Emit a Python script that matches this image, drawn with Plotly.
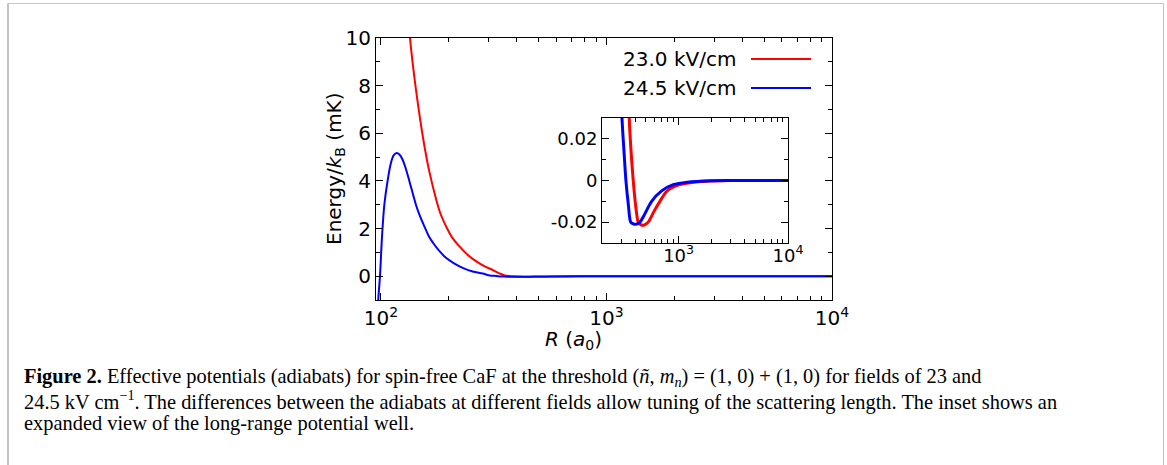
import plotly.graph_objects as go

# ---- data ----
r_red = [128, 134.5, 140, 145, 152.5, 158, 163.8, 175.4, 184, 194.2, 207, 222.4, 242, 263.8,
         287, 312.8, 335, 354, 370, 385,
         405, 428, 450, 475, 500, 528, 600, 675, 787, 1028, 1500, 2000, 3000, 5000, 10000]
e_red = [12.5, 10.0, 8.5, 7.4, 6.0, 5.15, 4.4, 3.25, 2.6, 2.1, 1.62, 1.26, 0.9, 0.63,
         0.42, 0.26, 0.12, 0.03, 0.012, 0.0,
         -0.012, -0.02, -0.0212, -0.0215, -0.021, -0.02, -0.0145, -0.01, -0.005, -0.002, -0.0006,
         -0.0002, 0.0, 0.0, 0.0]

r_blue = [96, 97.3, 99, 101, 103.5, 107, 110.7, 114, 117.4, 121, 124.8, 129, 133.6, 142.9, 148.5,
          155.6, 163, 172.3, 183, 194.2, 210, 230.3, 255, 282.5, 304, 317, 330, 348, 365, 385,
          408, 443, 480, 567, 700, 893, 1200, 2000, 3000, 5000, 10000]
e_blue = [-3.0, -1.0, 0.0, 1.6, 3.0, 4.0, 4.75, 5.08, 5.17, 5.1, 4.89, 4.5, 4.0, 3.0, 2.55,
          2.1, 1.68, 1.33, 1.02, 0.77, 0.55, 0.35, 0.2, 0.11, 0.03, 0.014, 0.0, -0.012, -0.02,
          -0.0208, -0.021, -0.02, -0.017, -0.01, -0.005, -0.002, -0.0008, -0.0001, 0.0, 0.0, 0.0]

labels = ["23.0 kV/cm", "24.5 kV/cm"]
colors = ["#ff0000", "#0000ff"]

main_xticks = [100, 1000, 10000]
main_xticktext = ["10<sup>2</sup>", "10<sup>3</sup>", "10<sup>4</sup>"]
main_yticks = [0, 2, 4, 6, 8, 10]
main_yminor = [-1, 1, 3, 5, 7, 9]
inset_xticks = [1000, 10000]
inset_xticktext = ["10<sup>3</sup>", "10<sup>4</sup>"]
inset_yticks = [-0.02, 0, 0.02]
inset_yticktext = ["-0.02", "0", "0.02"]
inset_yminor = [-0.03, -0.01, 0.01, 0.03]
minor_x = [v * 10 ** d for d in (2, 3) for v in range(2, 10)]

FONT = "DejaVu Sans"
W, H = 1167, 465

fig = go.Figure()
for r, e, c, name in [(r_red, e_red, colors[0], labels[0]), (r_blue, e_blue, colors[1], labels[1])]:
    fig.add_trace(go.Scatter(x=r, y=e, mode="lines", line=dict(color=c, width=2, shape="spline", smoothing=1.0),
                             name=name, showlegend=False, xaxis="x", yaxis="y"))
for r, e, c, name in [(r_red, e_red, colors[0], labels[0]), (r_blue, e_blue, colors[1], labels[1])]:
    fig.add_trace(go.Scatter(x=r, y=e, mode="lines", line=dict(color=c, width=3, shape="spline", smoothing=0.8),
                             name=name, showlegend=False, xaxis="x2", yaxis="y2"))

axcommon = dict(showline=True, linecolor="black", linewidth=1, mirror="ticks", ticks="inside",
                tickcolor="black", showgrid=False, zeroline=False, automargin=False,
                tickfont=dict(family=FONT, size=20, color="black"))

fig.update_layout(
    template="none",
    width=W, height=H, margin=dict(l=0, r=0, t=0, b=0, pad=0, autoexpand=False),
    paper_bgcolor="white", plot_bgcolor="rgba(0,0,0,0)", showlegend=False,
    xaxis=dict(axcommon, type="log", range=[1.978, 4.0], domain=[376 / W, 832 / W],
               tickmode="array", tickvals=main_xticks, ticktext=main_xticktext, ticklen=7,
               minor=dict(tickmode="array", tickvals=minor_x, ticks="inside", ticklen=4, tickcolor="black"),
               anchor="y"),
    yaxis=dict(axcommon, range=[-1, 10], domain=[1 - 300 / H, 1 - 38 / H],
               tickmode="array", tickvals=main_yticks, ticklen=7,
               minor=dict(tickmode="array", tickvals=main_yminor, ticks="inside", ticklen=4, tickcolor="black"),
               anchor="x"),
    xaxis2=dict(axcommon, type="log", range=[2.30, 4.0], domain=[602 / W, 788 / W],
                tickmode="array", tickvals=inset_xticks, ticktext=inset_xticktext, ticklen=7,
                tickfont=dict(family=FONT, size=18, color="black"), ticklabelstandoff=-4,
                minor=dict(tickmode="array", tickvals=minor_x, ticks="inside", ticklen=4, tickcolor="black"),
                anchor="y2"),
    yaxis2=dict(axcommon, range=[-0.03, 0.03], domain=[1 - 243 / H, 1 - 118 / H],
                tickmode="array", tickvals=inset_yticks, ticktext=inset_yticktext, ticklen=7,
                tickfont=dict(family=FONT, size=18, color="black"),
                minor=dict(tickmode="array", tickvals=inset_yminor, ticks="inside", ticklen=4, tickcolor="black"),
                anchor="x2"),
)

# white background for inset
fig.add_shape(type="rect", xref="x2 domain", yref="y2 domain", x0=0, x1=1, y0=0, y1=1,
              fillcolor="white", line=dict(width=0), layer="below")

# axis titles
fig.add_annotation(x=335 / W, y=1 - 169 / H, xref="paper", yref="paper", textangle=-90,
                   xanchor="center", yanchor="middle",
                   text="Energy/<i>k</i><sub>B</sub> (mK)", showarrow=False,
                   font=dict(family=FONT, size=20, color="black"))
fig.add_annotation(x=573 / W, y=1 - 340 / H, xref="paper", yref="paper",
                   xanchor="center", yanchor="middle",
                   text="<i>R</i> (<i>a</i><sub>0</sub>)", showarrow=False,
                   font=dict(family=FONT, size=20, color="black"))

# legend (text left, line sample right)
for i, (lab, c) in enumerate(zip(labels, colors)):
    yy = 1 - (59 + 29 * i) / H
    fig.add_annotation(x=738 / W, y=yy, xref="paper", yref="paper", text=lab, showarrow=False,
                       xanchor="right", yanchor="middle", font=dict(family=FONT, size=20, color="black"))
    fig.add_shape(type="line", xref="paper", yref="paper", x0=751 / W, x1=811 / W, y0=yy, y1=yy,
                  line=dict(color=c, width=2))

# caption
SERIF = "Liberation Serif"
cap = [
    "<b>Figure 2.</b> Effective potentials (adiabats) for spin-free CaF at the threshold "
    "(<i>ñ</i>, <i>m<sub>n</sub></i>) = (1, 0) + (1, 0) for fields of 23 and",
    "24.5 kV cm<sup>−1</sup>. The differences between the adiabats at different fields allow tuning of "
    "the scattering length. The inset shows an",
    "expanded view of the long-range potential well.",
]
for i, t in enumerate(cap):
    fig.add_annotation(x=22 / W, y=1 - (377 + 23 * i) / H, xref="paper", yref="paper", text=t,
                       showarrow=False, xanchor="left", yanchor="middle",
                       font=dict(family=SERIF, size=20.4, color="black"))

# light gray frame (open at the bottom)
fig.add_shape(type="rect", xref="paper", yref="paper", x0=7.5 / W, x1=1163.5 / W, y0=-0.05, y1=1 - 3.5 / H,
              line=dict(color="#c4c4c4", width=1), fillcolor="rgba(0,0,0,0)")
fig.add_shape(type="line", xref="paper", yref="paper", x0=8.5 / W, x1=8.5 / W, y0=-0.05, y1=1 - 3.5 / H,
              line=dict(color="#c4c4c4", width=1))

fig.write_html("out.html")
